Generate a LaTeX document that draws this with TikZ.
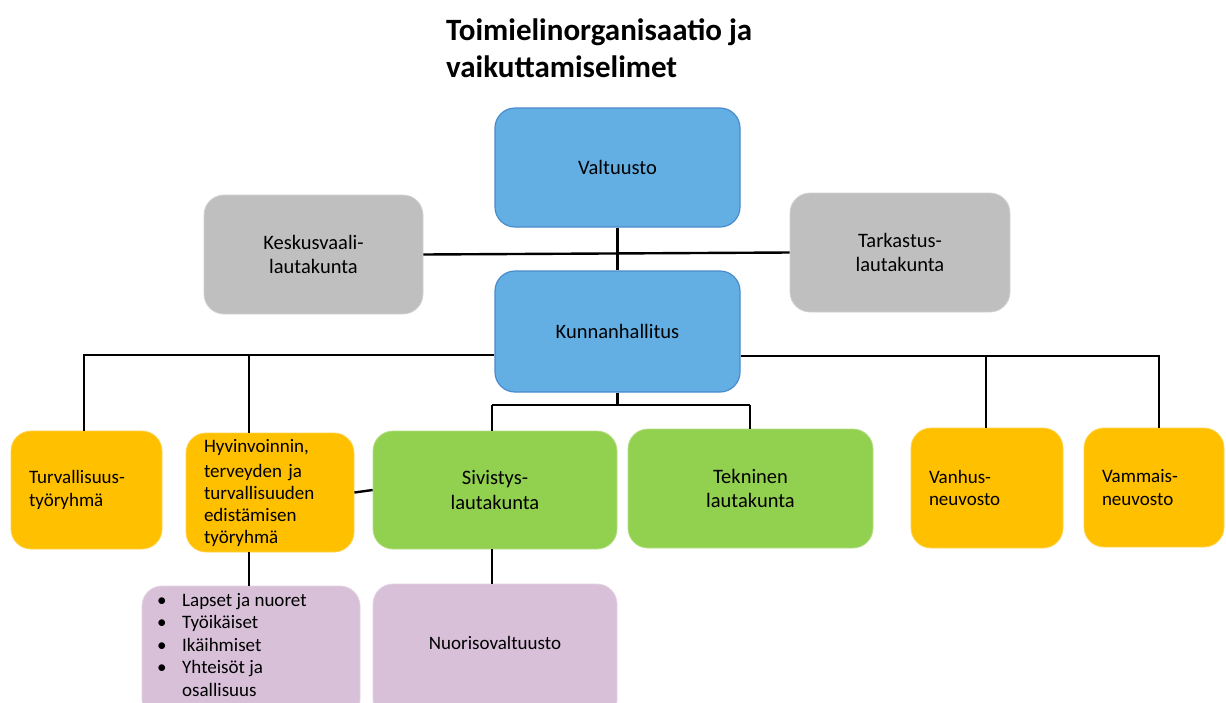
\documentclass[tikz,border=0pt]{standalone}
\usepackage{fontspec}
\setmainfont{Carlito}
\definecolor{bluefill}{HTML}{63AFE4}
\definecolor{blueedge}{HTML}{4A8BCB}
\definecolor{grayfill}{HTML}{BFBFBF}
\definecolor{orangefill}{HTML}{FFC000}
\definecolor{greenfill}{HTML}{92D050}
\definecolor{purplefill}{HTML}{D8C0D9}
\begin{document}
\begin{tikzpicture}[x=1pt,y=-1pt,
  base/.style={rounded corners=20pt, inner sep=2pt, font=\fontsize{20.5}{24.5}\selectfont, align=center},
  bluebox/.style={base, fill=bluefill, draw=blueedge, line width=1.2pt},
  graybox/.style={base, fill=grayfill, draw=grayfill!70!white, line width=0.8pt},
  greenbox/.style={base, fill=greenfill, draw=greenfill!70!white, line width=0.8pt},
  orangebox/.style={base, fill=orangefill, draw=orangefill!70!white, line width=0.8pt,
     font=\fontsize{19}{22.5}\selectfont, align=left, inner xsep=18pt, inner ysep=2pt},
  purplebox/.style={base, fill=purplefill, draw=purplefill!70!white, line width=0.8pt},
  conn/.style={line width=2.4pt, black},
  plain/.style={inner sep=0pt}
]
\useasboundingbox (0,0) rectangle (1226,702);
\clip (0,0) rectangle (1226,702);

% title
\node[plain, anchor=north west, align=left, font=\bfseries\fontsize{31}{37}\selectfont] (title) at (446,18)
  {Toimielinorganisaatio ja\\vaikuttamiselimet};

% boxes
\node[bluebox, minimum width=245pt, minimum height=119pt] (valt) at (617.5,167.5) {Valtuusto};
\node[graybox, minimum width=219pt, minimum height=119pt] (kesk) at (313.5,254.5) {Keskusvaali-\\lautakunta};
\node[graybox, minimum width=220pt, minimum height=119pt] (tark) at (900,252.5) {Tarkastus-\\lautakunta};
\node[bluebox, minimum width=245pt, minimum height=121pt] (kh) at (617.5,331.5) {Kunnanhallitus};

\node[orangebox, text width=115pt, minimum height=118pt] (turv) at (86.5,490) {Turvallisuus-\\työryhmä};
\node[orangebox, text width=132pt, minimum height=119pt, font=\fontsize{19}{22}\selectfont] (hyv) at (270,492.5)
  {\vspace*{3pt}Hyvinvoinnin,\\terveyden ja\\turvallisuuden\\edistämisen\\työryhmä};
\node[greenbox, minimum width=244pt, minimum height=118pt] (sivis) at (495,490) {Sivistys-\\lautakunta};
\node[greenbox, minimum width=245pt, minimum height=119pt] (tekn) at (750.5,488.5) {Tekninen\\lautakunta};
\node[orangebox, text width=116pt, minimum height=120pt] (vanh) at (987,488) {Vanhus-\\neuvosto};
\node[orangebox, text width=104pt, minimum height=119pt] (vamm) at (1154,487.5) {Vammais-\\neuvosto};

\node[purplebox, minimum width=218pt, minimum height=134pt] (lapset) at (251,653) {};
\node[purplebox, minimum width=244pt, minimum height=136pt] (nuor) at (495,652) {};
\node[plain, anchor=north west, align=left, font=\fontsize{19}{22.5}\selectfont] (lapsettxt) at (157,593)
  {\makebox[25pt][l]{\textbullet}Lapset ja nuoret\\
   \makebox[25pt][l]{\textbullet}Työikäiset\\
   \makebox[25pt][l]{\textbullet}Ikäihmiset\\
   \makebox[25pt][l]{\textbullet}Yhteisöt ja\\
   \makebox[25pt][l]{}osallisuus};
\node[plain, font=\fontsize{19}{22.5}\selectfont] (nuortxt) at (495,643) {Nuorisovaltuusto};

% helper coordinates
\coordinate (lh) at (84,355);
\coordinate (hl) at (249,355);
\coordinate (rv) at (986,356);
\coordinate (rm) at (1159,356);
\coordinate (bl) at (492,405);
\coordinate (br) at (750,405);

% connectors
\draw[conn] (valt.south) -- (kh.north);
\draw[conn] (kesk.east) -- (tark.west);
\draw[conn] (kh.west |- lh) -- (lh) -- (lh |- turv.north);
\draw[conn] (hl) -- (hl |- hyv.north);
\draw[conn] (kh.east |- rm) -- (rm) -- (rm |- vamm.north);
\draw[conn] (rv) -- (rv |- vanh.north);
\draw[conn] (kh.south) -- (kh.south |- bl);
\draw[conn] (bl) -- (br);
\draw[conn] (bl) -- (bl |- sivis.north);
\draw[conn] (br) -- (br |- tekn.north);
\draw[conn] (hyv.east) -- (sivis.west);
\draw[conn] (hl |- hyv.south) -- (hl |- lapset.north);
\draw[conn] (sivis.south -| bl) -- (nuor.north -| bl);
\end{tikzpicture}
\end{document}
